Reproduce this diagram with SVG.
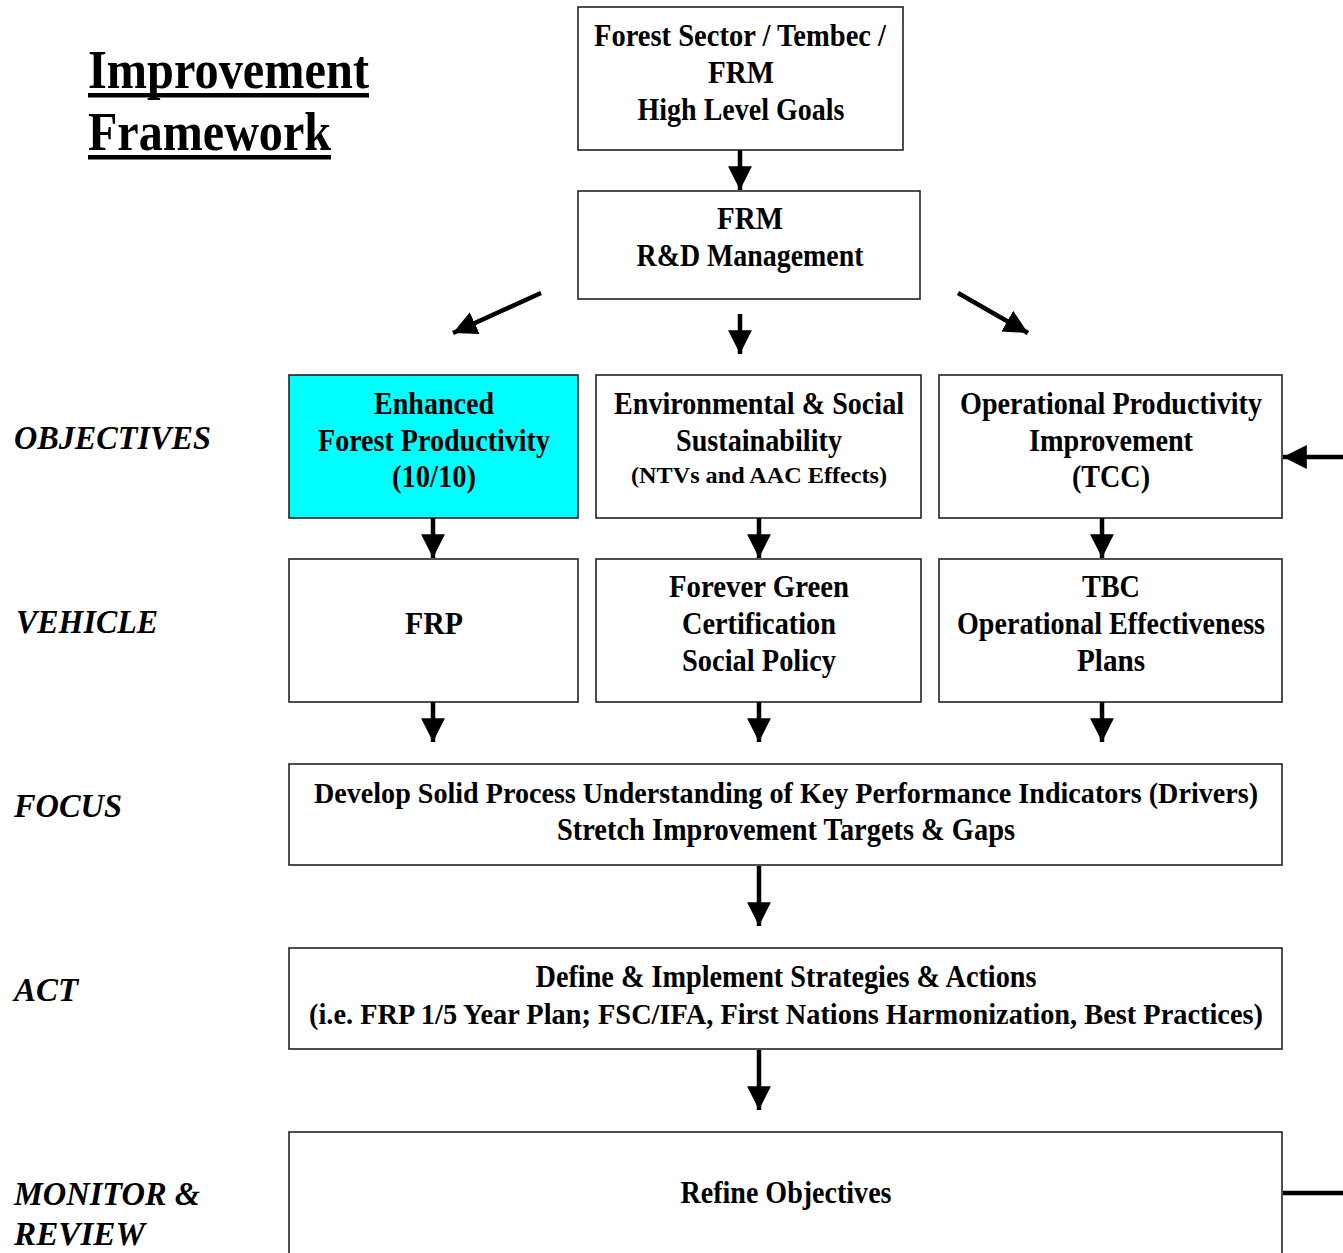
<svg xmlns="http://www.w3.org/2000/svg" width="1343" height="1253" viewBox="0 0 1343 1253">
<style>
.box{fill:#fff;stroke:#222;stroke-width:1.6}
.t{font-family:"Liberation Serif","Times New Roman",serif;font-weight:bold;font-size:31px;fill:#000;text-anchor:middle}
.s{font-size:24px}
.w{font-size:29px}
.lab{font-family:"Liberation Serif","Times New Roman",serif;font-weight:bold;font-style:italic;font-size:33px;fill:#000}
.ttl{font-family:"Liberation Serif","Times New Roman",serif;font-weight:bold;font-size:54px;fill:#000}
.c{stroke:#000;stroke-width:4.5;fill:none}
</style>
<defs>
<marker id="ah" markerUnits="userSpaceOnUse" markerWidth="26" markerHeight="26" viewBox="0 0 24 24" refX="22" refY="11" orient="auto">
<path d="M0,0 L22,11 L0,22 z" fill="#000"/>
</marker>
</defs>
<g id="title">
<text class="ttl" x="88" y="88" textLength="281" lengthAdjust="spacingAndGlyphs">Improvement</text>
<rect x="88" y="93" width="281" height="4.5" fill="#000"/>
<text class="ttl" x="88" y="150" textLength="243" lengthAdjust="spacingAndGlyphs">Framework</text>
<rect x="88" y="155" width="243" height="4.5" fill="#000"/>
</g>
<g id="labels">
<text class="lab" x="14" y="449" textLength="197" lengthAdjust="spacingAndGlyphs">OBJECTIVES</text>
<text class="lab" x="16" y="633" textLength="142" lengthAdjust="spacingAndGlyphs">VEHICLE</text>
<text class="lab" x="14" y="817" textLength="108" lengthAdjust="spacingAndGlyphs">FOCUS</text>
<text class="lab" x="14" y="1001" textLength="64" lengthAdjust="spacingAndGlyphs">ACT</text>
<text class="lab" x="14" y="1205" textLength="186" lengthAdjust="spacingAndGlyphs">MONITOR &amp;</text>
<text class="lab" x="14" y="1245" textLength="131" lengthAdjust="spacingAndGlyphs">REVIEW</text>
</g>
<g id="goals">
<rect class="box" x="578" y="7" width="325" height="143"/>
<text class="t" x="740" y="46" textLength="292" lengthAdjust="spacingAndGlyphs">Forest Sector / Tembec /</text>
<text class="t" x="741" y="83" textLength="66" lengthAdjust="spacingAndGlyphs">FRM</text>
<text class="t" x="741" y="120" textLength="207" lengthAdjust="spacingAndGlyphs">High Level Goals</text>
</g>
<g id="rdm">
<rect class="box" x="578" y="191" width="342" height="108"/>
<text class="t" x="750" y="229" textLength="66" lengthAdjust="spacingAndGlyphs">FRM</text>
<text class="t" x="750" y="266" textLength="227" lengthAdjust="spacingAndGlyphs">R&amp;D Management</text>
</g>
<g id="obj1">
<rect x="289" y="375" width="289" height="143" fill="#00ffff" stroke="#222" stroke-width="1.6"/>
<text class="t" x="434" y="414" textLength="120" lengthAdjust="spacingAndGlyphs">Enhanced</text>
<text class="t" x="434" y="451" textLength="232" lengthAdjust="spacingAndGlyphs">Forest Productivity</text>
<text class="t" x="434" y="487" textLength="84" lengthAdjust="spacingAndGlyphs">(10/10)</text>
</g>
<g id="obj2">
<rect class="box" x="596" y="375" width="325" height="143"/>
<text class="t" x="759" y="414" textLength="290" lengthAdjust="spacingAndGlyphs">Environmental &amp; Social</text>
<text class="t" x="759" y="451" textLength="166" lengthAdjust="spacingAndGlyphs">Sustainability</text>
<text class="t s" x="759" y="483" textLength="256" lengthAdjust="spacingAndGlyphs">(NTVs and AAC Effects)</text>
</g>
<g id="obj3">
<rect class="box" x="939" y="375" width="343" height="143"/>
<text class="t" x="1111" y="414" textLength="302" lengthAdjust="spacingAndGlyphs">Operational Productivity</text>
<text class="t" x="1111" y="451" textLength="164" lengthAdjust="spacingAndGlyphs">Improvement</text>
<text class="t" x="1111" y="487" textLength="78" lengthAdjust="spacingAndGlyphs">(TCC)</text>
</g>
<g id="veh1">
<rect class="box" x="289" y="559" width="289" height="143"/>
<text class="t" x="434" y="634" textLength="58" lengthAdjust="spacingAndGlyphs">FRP</text>
</g>
<g id="veh2">
<rect class="box" x="596" y="559" width="325" height="143"/>
<text class="t" x="759" y="597" textLength="180" lengthAdjust="spacingAndGlyphs">Forever Green</text>
<text class="t" x="759" y="634" textLength="154" lengthAdjust="spacingAndGlyphs">Certification</text>
<text class="t" x="759" y="671" textLength="154" lengthAdjust="spacingAndGlyphs">Social Policy</text>
</g>
<g id="veh3">
<rect class="box" x="939" y="559" width="343" height="143"/>
<text class="t" x="1111" y="597" textLength="58" lengthAdjust="spacingAndGlyphs">TBC</text>
<text class="t" x="1111" y="634" textLength="308" lengthAdjust="spacingAndGlyphs">Operational Effectiveness</text>
<text class="t" x="1111" y="671" textLength="68" lengthAdjust="spacingAndGlyphs">Plans</text>
</g>
<g id="focus">
<rect class="box" x="289" y="764" width="993" height="101"/>
<text class="t w" x="786" y="803" textLength="944" lengthAdjust="spacingAndGlyphs">Develop Solid Process Understanding of Key Performance Indicators (Drivers)</text>
<text class="t" x="786" y="840" textLength="458" lengthAdjust="spacingAndGlyphs">Stretch Improvement Targets &amp; Gaps</text>
</g>
<g id="act">
<rect class="box" x="289" y="948" width="993" height="101"/>
<text class="t" x="786" y="987" textLength="501" lengthAdjust="spacingAndGlyphs">Define &amp; Implement Strategies &amp; Actions</text>
<text class="t w" x="786" y="1024" textLength="954" lengthAdjust="spacingAndGlyphs">(i.e. FRP 1/5 Year Plan; FSC/IFA, First Nations Harmonization, Best Practices)</text>
</g>
<g id="monitor">
<rect class="box" x="289" y="1132" width="993" height="140"/>
<text class="t" x="786" y="1203" textLength="211" lengthAdjust="spacingAndGlyphs">Refine Objectives</text>
</g>
<g id="connectors">
<line class="c" x1="740" y1="150" x2="740" y2="190" marker-end="url(#ah)"/>
<line class="c" x1="541" y1="293" x2="453" y2="333" marker-end="url(#ah)"/>
<line class="c" x1="740" y1="314" x2="740" y2="354" marker-end="url(#ah)"/>
<line class="c" x1="958" y1="293" x2="1028" y2="333" marker-end="url(#ah)"/>
<line class="c" x1="1343" y1="457" x2="1283" y2="457" marker-end="url(#ah)"/>
<line class="c" x1="433" y1="518" x2="433" y2="558" marker-end="url(#ah)"/>
<line class="c" x1="759" y1="518" x2="759" y2="558" marker-end="url(#ah)"/>
<line class="c" x1="1102" y1="518" x2="1102" y2="558" marker-end="url(#ah)"/>
<line class="c" x1="433" y1="702" x2="433" y2="742" marker-end="url(#ah)"/>
<line class="c" x1="759" y1="702" x2="759" y2="742" marker-end="url(#ah)"/>
<line class="c" x1="1102" y1="702" x2="1102" y2="742" marker-end="url(#ah)"/>
<line class="c" x1="759" y1="866" x2="759" y2="926" marker-end="url(#ah)"/>
<line class="c" x1="759" y1="1050" x2="759" y2="1110" marker-end="url(#ah)"/>
<line class="c" x1="1283" y1="1193" x2="1343" y2="1193"/>
</g>
</svg>
